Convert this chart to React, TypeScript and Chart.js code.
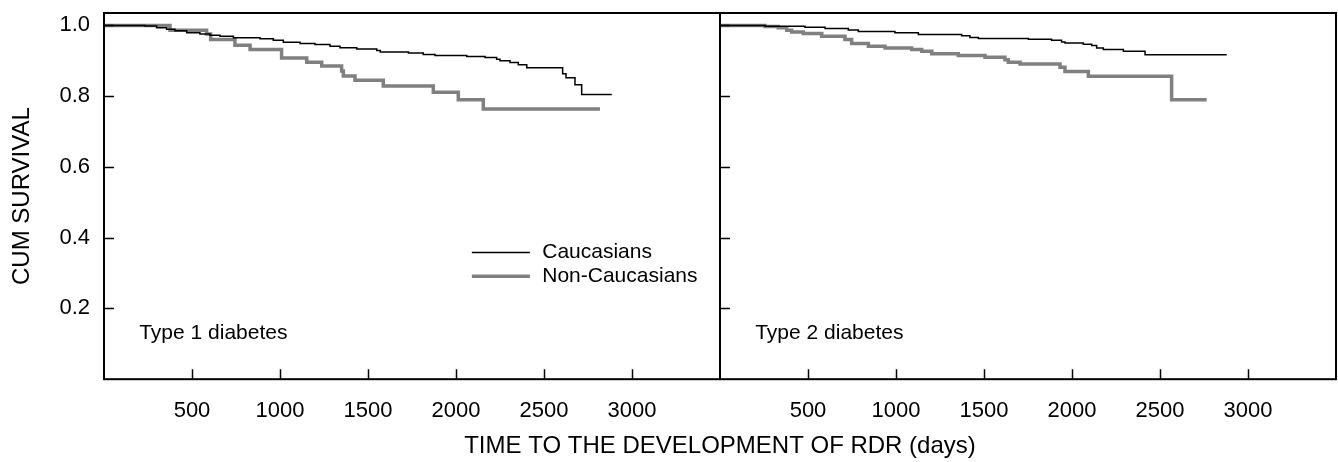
import React, { useEffect, useRef } from 'react';
import { Chart, registerables } from 'chart.js';

Chart.register(...registerables);

// ---- data ----
const xTickValues = [500, 1000, 1500, 2000, 2500, 3000];
const yTickValues = [0.2, 0.4, 0.6, 0.8, 1.0];

const seriesLabels = ['Caucasians', 'Non-Caucasians'];
const panelLabels = ['Type 1 diabetes', 'Type 2 diabetes'];
const yTitle = 'CUM SURVIVAL';
const xTitle = 'TIME TO THE DEVELOPMENT OF RDR (days)';

// Type 1 diabetes
const t1CaucDays = [0, 233, 299, 356, 403, 470, 545, 602, 659, 735, 886, 962, 1019, 1114, 1199, 1284, 1341, 1436, 1550, 1570, 1730, 1814, 1881, 2061, 2165, 2231, 2250, 2307, 2354, 2402, 2606, 2625, 2676, 2714, 2885];
const t1CaucSurv = [1.0, 0.998, 0.993, 0.989, 0.985, 0.979, 0.976, 0.972, 0.969, 0.965, 0.962, 0.958, 0.952, 0.949, 0.946, 0.941, 0.937, 0.933, 0.929, 0.925, 0.922, 0.918, 0.915, 0.912, 0.909, 0.904, 0.9, 0.895, 0.889, 0.88, 0.863, 0.852, 0.832, 0.805, 0.805];
const t1NonDays = [0, 375, 583, 606, 744, 830, 1009, 1152, 1237, 1350, 1360, 1426, 1587, 1871, 2013, 2155, 2818];
const t1NonSurv = [1.0, 0.986, 0.976, 0.96, 0.944, 0.932, 0.908, 0.896, 0.885, 0.871, 0.857, 0.845, 0.829, 0.811, 0.79, 0.764, 0.764];

// Type 2 diabetes
const t2CaucDays = [0, 256, 483, 597, 729, 786, 994, 1127, 1373, 1420, 1468, 1752, 1884, 1941, 1960, 2064, 2112, 2140, 2178, 2292, 2415, 2879];
const t2CaucSurv = [1.0, 0.9975, 0.995, 0.991, 0.987, 0.983, 0.979, 0.974, 0.971, 0.966, 0.963, 0.961, 0.958, 0.953, 0.95, 0.947, 0.943, 0.936, 0.932, 0.927, 0.917, 0.917];
const t2NonDays = [0, 256, 331, 379, 407, 473, 578, 710, 748, 843, 938, 1089, 1146, 1203, 1354, 1506, 1619, 1638, 1705, 1932, 1960, 2093, 2566, 2765];
const t2NonSurv = [1.0, 0.997, 0.993, 0.986, 0.981, 0.977, 0.969, 0.96, 0.949, 0.941, 0.936, 0.932, 0.927, 0.92, 0.915, 0.91, 0.903, 0.896, 0.891, 0.882, 0.87, 0.856, 0.79, 0.79];

const FONT = '"Liberation Sans", Arial, Helvetica, sans-serif';
const BLACK = '#000000';
const GREY = '#808080';

const toPoints = (xs: number[], ys: number[]) => xs.map((x, i) => ({ x, y: ys[i] }));

const framePlugin = {
  id: 'frame',
  afterDatasetsDraw(chart: any) {
    const { ctx, chartArea: a, scales } = chart;
    const x1 = scales.x1;
    const x2 = scales.x2;
    const y = scales.y;
    ctx.save();
    ctx.strokeStyle = BLACK;
    ctx.lineWidth = 2;
    ctx.strokeRect(a.left, a.top, a.right - a.left, a.bottom - a.top);
    ctx.beginPath();
    ctx.moveTo(x1.right, a.top);
    ctx.lineTo(x1.right, a.bottom);
    ctx.stroke();

    // inward tick marks
    const tl = 10;
    ctx.lineWidth = 1.5;
    ctx.beginPath();
    for (const xs of [x1, x2]) {
      for (const v of xTickValues) {
        const px = Math.round(xs.getPixelForValue(v)) + 0.5;
        ctx.moveTo(px, a.bottom);
        ctx.lineTo(px, a.bottom - tl);
      }
      for (const v of yTickValues) {
        const py = Math.round(y.getPixelForValue(v)) + 0.5;
        ctx.moveTo(xs.left, py);
        ctx.lineTo(xs.left + tl, py);
      }
    }
    ctx.stroke();

    // panel labels
    ctx.fillStyle = BLACK;
    ctx.font = `21px ${FONT}`;
    ctx.textAlign = 'left';
    ctx.textBaseline = 'middle';
    panelLabels.forEach((t, i) => {
      const xs = i === 0 ? x1 : x2;
      ctx.fillText(t, xs.getPixelForValue(200), y.getPixelForValue(0.13));
    });

    // legend (left panel)
    const legendLevels = [0.358, 0.291];
    const lx0 = x1.getPixelForValue(2090);
    const lx1 = x1.getPixelForValue(2420);
    const tx = x1.getPixelForValue(2490);
    seriesLabels.forEach((lab, i) => {
      const ds = chart.data.datasets[i];
      const py = y.getPixelForValue(legendLevels[i]);
      ctx.strokeStyle = ds.borderColor;
      ctx.lineWidth = ds.borderWidth;
      ctx.beginPath();
      ctx.moveTo(lx0, py);
      ctx.lineTo(lx1, py);
      ctx.stroke();
      ctx.fillStyle = BLACK;
      ctx.fillText(lab, tx, py);
    });
    ctx.restore();
  },
};

export default function App() {
  const ref = useRef<HTMLCanvasElement | null>(null);
  useEffect(() => {
    if (!ref.current) return;
    const mk = (xs: number[], ys: number[], idx: number, xAxisID: string) => ({
      label: seriesLabels[idx],
      data: toPoints(xs, ys),
      xAxisID,
      yAxisID: 'y',
      borderColor: idx === 0 ? BLACK : GREY,
      borderWidth: idx === 0 ? 1.5 : 3.5,
      pointRadius: 0,
      stepped: 'before' as const,
      fill: false,
    });
    const xScale = (stackName: string) => ({
      type: 'linear' as const,
      position: 'bottom' as const,
      stack: stackName,
      stackWeight: 1,
      min: 0,
      max: 3500,
      grid: { display: false, drawTicks: false },
      border: { display: false },
      ticks: {
        autoSkip: false,
        maxRotation: 0,
        padding: 19,
        color: BLACK,
        font: { family: FONT, size: 22 },
        callback: (v: any) => String(v),
      },
      afterBuildTicks: (s: any) => {
        s.ticks = xTickValues.map((v) => ({ value: v }));
      },
      afterFit: (s: any) => {
        s.height = 47;
        s.paddingLeft = 0;
        s.paddingRight = 0;
      },
    });
    const chart = new Chart(ref.current, {
      type: 'line',
      data: {
        datasets: [
          mk(t1CaucDays, t1CaucSurv, 0, 'x1'),
          mk(t1NonDays, t1NonSurv, 1, 'x1'),
          mk(t2CaucDays, t2CaucSurv, 0, 'x2'),
          mk(t2NonDays, t2NonSurv, 1, 'x2'),
        ],
      },
      options: {
        animation: false,
        responsive: false,
        devicePixelRatio: 1,
        layout: { padding: { top: 13, right: 2, left: 0, bottom: 0 } },
        plugins: {
          legend: { display: false },
          tooltip: { enabled: false },
          title: {
            display: true,
            text: xTitle,
            position: 'bottom',
            fullSize: false,
            color: BLACK,
            font: { family: FONT, size: 24, weight: 'normal' },
            padding: { top: 6, bottom: 1 },
          },
        },
        scales: {
          x1: xScale('xs'),
          x2: xScale('xs'),
          y: {
            type: 'linear',
            position: 'left',
            min: 0,
            max: 1.035,
            grid: { display: false, drawTicks: false },
            border: { display: false },
            ticks: {
              padding: 14,
              color: BLACK,
              font: { family: FONT, size: 22 },
              callback: (v: any) => Number(v).toFixed(1),
            },
            afterBuildTicks: (s: any) => {
              s.ticks = yTickValues.map((v) => ({ value: v }));
            },
            afterFit: (s: any) => {
              s.width = 104;
              s.paddingTop = 0;
              s.paddingBottom = 0;
            },
            title: {
              display: true,
              text: yTitle,
              color: BLACK,
              font: { family: FONT, size: 24 },
              padding: { top: 8, bottom: 0 },
            },
          },
        },
      },
      plugins: [framePlugin],
    });
    return () => chart.destroy();
  }, []);
  return (
    <div style={{ position: 'absolute', left: 0, top: 0, width: 1338, height: 462, background: '#fff' }}>
      <canvas ref={ref} width={1338} height={462} style={{ display: 'block', width: 1338, height: 462 }} />
    </div>
  );
}
